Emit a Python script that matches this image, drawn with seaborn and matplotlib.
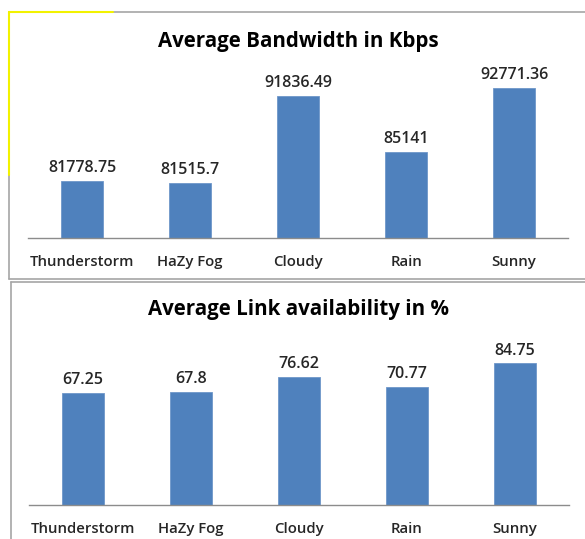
import matplotlib
matplotlib.use("Agg")
import matplotlib.pyplot as plt
import seaborn as sns
import pandas as pd
from matplotlib.lines import Line2D

categories = ["Thunderstorm", "HaZy Fog", "Cloudy", "Rain", "Sunny"]
bandwidth = [81778.75, 81515.7, 91836.49, 85141, 92771.36]
bandwidth_labels = ["81778.75", "81515.7", "91836.49", "85141", "92771.36"]
availability = [67.25, 67.8, 76.62, 70.77, 84.75]
availability_labels = ["67.25", "67.8", "76.62", "70.77", "84.75"]
title_bw = "Average Bandwidth in Kbps"
title_av = "Average Link availability in %"

sns.set_theme(style="white")
plt.rcParams["font.family"] = ["Open Sans", "DejaVu Sans"]

W, H = 585, 539
fig = plt.figure(figsize=(W / 100, H / 100), dpi=100)
BAR = "#4F81BD"
TXT = "#262626"


def fx(x):
    return x / W


def fy(y):
    return 1 - y / H


def panel(ax_rect, values, labels, ylim, title, title_y):
    ax = fig.add_axes(ax_rect)
    df = pd.DataFrame({"cat": categories, "val": values})
    sns.barplot(data=df, x="cat", y="val", color=BAR, width=0.39,
                saturation=1, ax=ax, edgecolor="#6f97c9", linewidth=0.6)
    ax.set_xlim(-0.5, 4.5)
    ax.set_ylim(*ylim)
    ax.set_xlabel("")
    ax.set_ylabel("")
    ax.set_yticks([])
    for s in ["top", "right", "left"]:
        ax.spines[s].set_visible(False)
    ax.spines["bottom"].set_color("#8c8c8c")
    ax.spines["bottom"].set_linewidth(1.0)
    ax.tick_params(axis="x", length=0, pad=12, labelsize=10.7, labelcolor=TXT)
    for lbl in ax.get_xticklabels():
        lbl.set_fontweight("semibold")
    for i, (v, t) in enumerate(zip(values, labels)):
        ax.annotate(t, (i, v), xytext=(0, 3.5), textcoords="offset points",
                    ha="center", va="bottom", fontsize=11.5, color=TXT,
                    fontweight="semibold")
    fig.text(fx(298), fy(title_y), title, ha="center", va="center",
             fontsize=14.8, fontweight="bold", color="black")
    return ax


panel([fx(28), fy(238), fx(540), 169 / H], bandwidth, bandwidth_labels,
      (75000, 95000), title_bw, 41)
panel([fx(29), fy(505), fx(540), 167 / H], availability, availability_labels,
      (0, 100), title_av, 309)

# spreadsheet-like chart frames
grey = "#a6a6a6"
def line(x0, y0, x1, y1, c=grey, lw=1.2):
    fig.add_artist(Line2D([fx(x0), fx(x1)], [fy(y0), fy(y1)], color=c, lw=lw))

line(9, 12, 585, 12)
line(9, 12, 9, 279)
line(9, 279, 585, 279)
line(11, 282, 585, 282)
line(11, 282, 11, 539)
line(9, 12, 113, 12, c="#f2f200", lw=1.5)
line(8.5, 12, 8.5, 175, c="#f2f200", lw=1.5)

fig.savefig("out.png", dpi=100)
